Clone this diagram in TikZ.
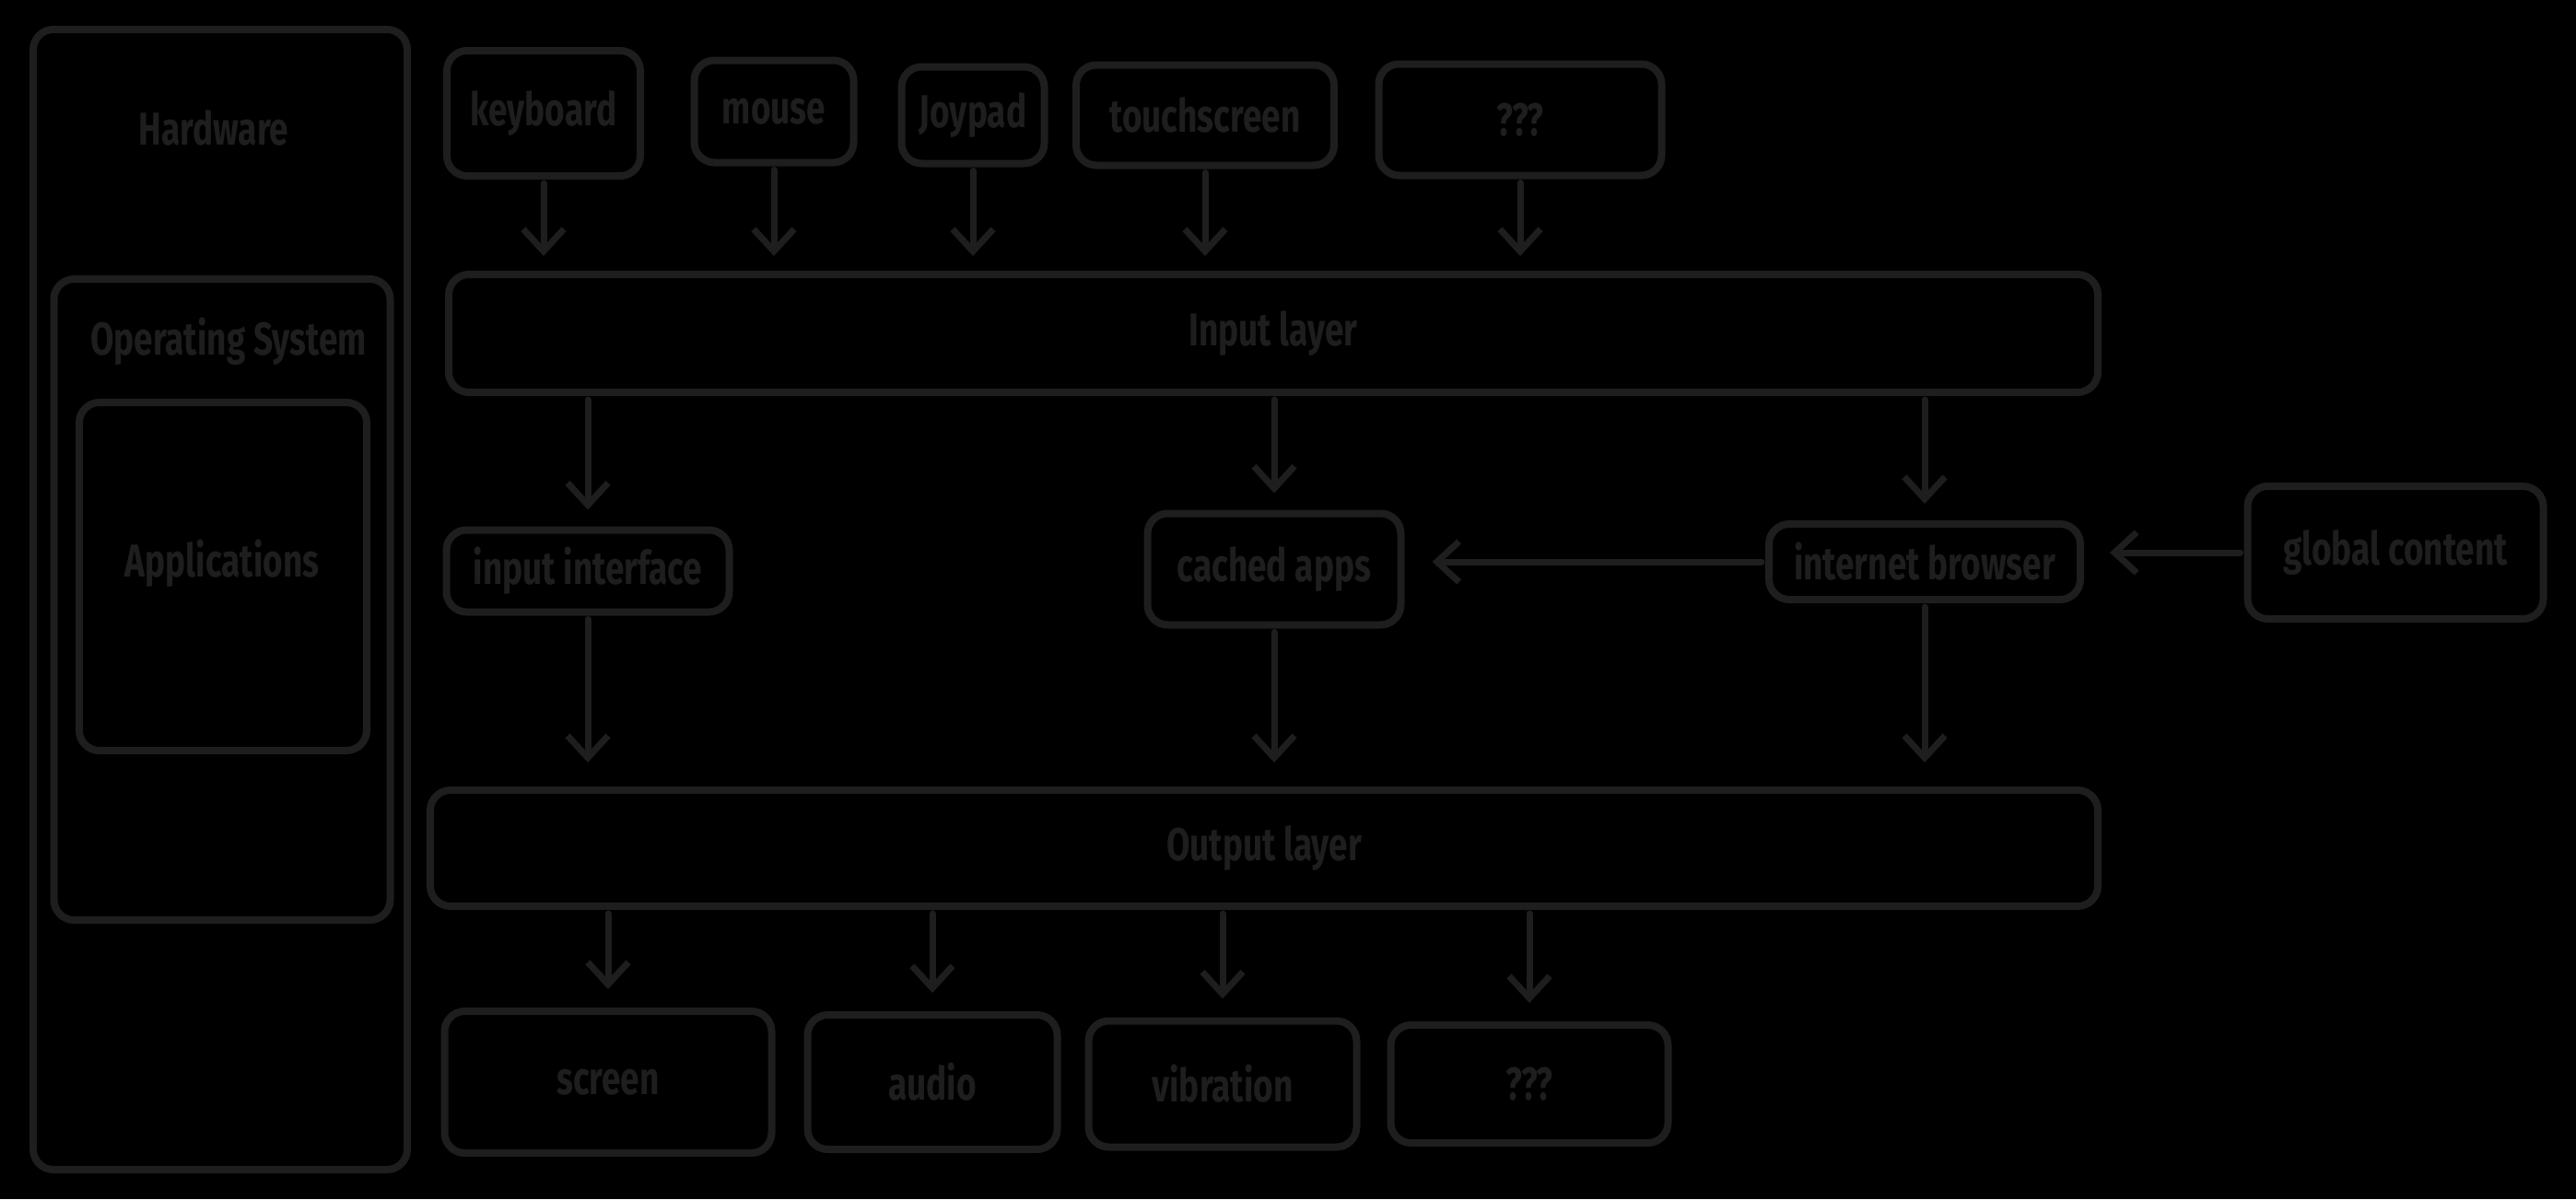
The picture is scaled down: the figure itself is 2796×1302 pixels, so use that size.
\documentclass[tikz,border=0pt]{standalone}
\usepackage{fontspec}
\setmainfont[FakeStretch=0.74]{Fira Sans}
\usetikzlibrary{arrows.meta,calc}
\definecolor{ink}{HTML}{1E1E1E}
\tikzset{
  x=1pt,y=-1pt,
  box/.style={draw=ink,line width=8pt,rounded corners=22pt,inner sep=0pt},
  lbl/.style={text=ink,font=\fontsize{50}{54}\selectfont\bfseries,inner sep=0pt},
  arr/.style={draw=ink,line width=7pt,line cap=round,line join=round,-{Straight Barb[length=24pt,width=44pt,line width=7pt]}},
}
\begin{document}
\begin{tikzpicture}
\fill[black] (0,0) rectangle (2796,1302);
\useasboundingbox (0,0) rectangle (2796,1302);
% containers
\node[box,minimum width=406pt,minimum height=1238pt] (hw) at (239,651) {};
\node[lbl] (hwl) at (232,139) {Hardware};
\node[box,minimum width=365pt,minimum height=696pt] (os) at (241,651) {};
\node[lbl] (osl) at (248,371) {Operating System};
\node[box,minimum width=312pt,minimum height=378pt] (apps) at (242,626) {};
\node[lbl] (appsl) at (241,612) {Applications};
% input devices
\node[box,lbl,draw=ink,minimum width=210pt,minimum height=136pt] (kb) at (590,123) {keyboard};
\node[box,lbl,draw=ink,minimum width=173pt,minimum height=111pt] (mouse) at (840,121) {mouse};
\node[box,lbl,draw=ink,minimum width=155pt,minimum height=105pt] (joy) at (1056,125) {Joypad};
\node[box,lbl,draw=ink,minimum width=280pt,minimum height=109pt] (touch) at (1308,125) {touchscreen};
\node[box,lbl,draw=ink,minimum width=307pt,minimum height=121pt] (qin) at (1650,130) {???};
% input layer
\node[box,lbl,draw=ink,minimum width=1790pt,minimum height=128pt] (input) at (1382,362) {Input layer};
% middle row
\node[box,lbl,draw=ink,minimum width=307pt,minimum height=89pt] (inif) at (638,620) {input interface};
\node[box,lbl,draw=ink,minimum width=275pt,minimum height=121pt] (cached) at (1383,618) {cached apps};
\node[box,lbl,draw=ink,minimum width=338pt,minimum height=82pt] (browser) at (2089,610) {internet browser};
\node[box,lbl,draw=ink,minimum width=321pt,minimum height=144pt] (global) at (2600,600) {global content};
% output layer
\node[box,lbl,draw=ink,minimum width=1810pt,minimum height=126pt] (output) at (1372,921) {Output layer};
% outputs
\node[box,lbl,draw=ink,minimum width=355pt,minimum height=154pt] (screen) at (660,1175) {screen};
\node[box,lbl,draw=ink,minimum width=271pt,minimum height=146pt] (audio) at (1012,1175) {audio};
\node[box,lbl,draw=ink,minimum width=291pt,minimum height=137pt] (vib) at (1327,1177) {vibration};
\node[box,lbl,draw=ink,minimum width=301pt,minimum height=128pt] (qout) at (1660,1177) {???};
% arrows devices -> input
\foreach \n in {kb,mouse,joy,touch,qin}
  \draw[arr,shorten <=4pt,shorten >=16pt] (\n.south) -- (\n.south |- input.north);
% input -> middle
\foreach \n in {inif,cached,browser}
  \draw[arr,shorten <=4pt,shorten >=18pt] (input.south -| \n) -- (\n.north);
% middle -> output
\foreach \n in {inif,cached,browser}
  \draw[arr,shorten <=4pt,shorten >=26pt] (\n.south) -- (\n.south |- output.north);
% output -> devices
\foreach \n in {screen,audio,vib,qout}
  \draw[arr,shorten <=4pt,shorten >=20pt] (output.south -| \n) -- (\n.north);
% horizontal
\draw[arr,shorten <=4pt,shorten >=28pt] (global.west) -- (global.west -| browser.east);
\draw[arr,shorten <=4pt,shorten >=30pt] (browser.west) -- (browser.west -| cached.east);
\end{tikzpicture}
\end{document}
